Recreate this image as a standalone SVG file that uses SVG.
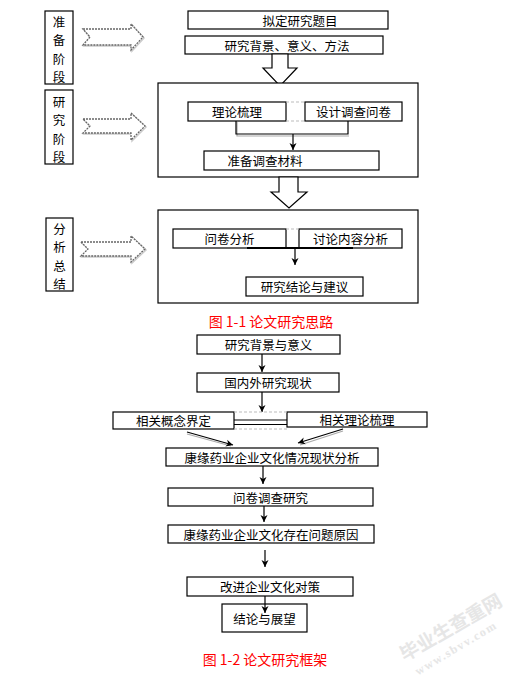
<svg xmlns="http://www.w3.org/2000/svg" width="519" height="676" viewBox="0 0 519 676">
<defs>
<marker id="ah" markerWidth="10" markerHeight="10" refX="8" refY="5" orient="auto" markerUnits="userSpaceOnUse">
<path d="M1,1.5 L8,5 L1,8.5 L3,5 Z" fill="#000"/>
</marker>
</defs>
<style>
.box{fill:#fff;stroke:#000;stroke-width:1.2}
.t{font-family:"Noto Sans CJK SC","Noto Sans",sans-serif;font-size:12.5px;fill:#000;text-anchor:middle;dominant-baseline:central}
.cap{font-family:"Noto Sans CJK SC","Noto Sans",sans-serif;font-size:14px;fill:#f00;text-anchor:middle;dominant-baseline:central}
.harrow{fill:#fff;stroke:#666;stroke-width:1.3;stroke-dasharray:2 1}
.hshadow{fill:none;stroke:#ccc;stroke-width:1.5}
.darrow{fill:#fff;stroke:#000;stroke-width:1.2}
.ln{fill:none;stroke:#000;stroke-width:1.2}
.sh{fill:none;stroke:#aaa;stroke-width:1.2}
.dash{fill:none;stroke:#bbb;stroke-width:1;stroke-dasharray:3 2}
.wm{font-family:"Noto Sans CJK SC",sans-serif;fill:#e6e6e6;font-weight:bold;text-anchor:middle;dominant-baseline:central}
</style>

<!-- stage labels -->
<g id="stage1"><rect class="box" x="45" y="11" width="28" height="73"/>
<text class="t" x="59" y="21">准</text><text class="t" x="59" y="39">备</text><text class="t" x="59" y="58">阶</text><text class="t" x="59" y="76">段</text></g>
<g id="stage2"><rect class="box" x="45" y="90" width="28" height="74"/>
<text class="t" x="59" y="101">研</text><text class="t" x="59" y="119">究</text><text class="t" x="59" y="138">阶</text><text class="t" x="59" y="156">段</text></g>
<g id="stage3"><rect class="box" x="46" y="218" width="27" height="73"/>
<text class="t" x="59.5" y="228">分</text><text class="t" x="59.5" y="246">析</text><text class="t" x="59.5" y="265">总</text><text class="t" x="59.5" y="283">结</text></g>

<!-- hollow right arrows -->
<g id="harrow1"><polygon class="hshadow" points="84,30 132,30 132,25 144,38 132,51 132,46 84,46 91,38"/><polygon class="harrow" points="83,29 131,29 131,24 143,37 131,50 131,45 83,45 90,37"/></g>
<g id="harrow2"><polygon class="hshadow" points="84,120 132,120 132,114 146,127 132,141 132,134 84,134 91,127"/><polygon class="harrow" points="83,119 131,119 131,113 145,126 131,140 131,133 83,133 90,126"/></g>
<g id="harrow3"><polygon class="hshadow" points="82,243 132,243 132,237 146,250 132,263 132,257 82,257 89,250"/><polygon class="harrow" points="81,242 131,242 131,236 145,249 131,262 131,256 81,256 88,249"/></g>

<!-- top flow -->
<g id="n1"><rect class="box" x="188" y="11" width="200" height="18"/><text class="t" x="300" y="20">拟定研究题目</text></g>
<g id="n2"><rect class="box" x="185" y="36" width="198" height="18"/><text class="t" x="287" y="45">研究背景、意义、方法</text></g>
<g id="darrow1"><polygon class="darrow" points="272,54 288,54 288,68 297,68 280,86 263,68 272,68"/></g>
<g id="frame1"><rect class="box" x="158" y="83" width="260" height="94"/></g>
<g id="n3"><rect class="box" x="188" y="102" width="98" height="19"/><text class="t" x="237" y="111.5">理论梳理</text></g>
<g id="n4"><rect class="box" x="305" y="102" width="97" height="19"/><text class="t" x="353.5" y="111.5">设计调查问卷</text></g>
<g id="n5"><rect class="box" x="204" y="151" width="175" height="19"/><text class="t" x="265" y="160.5">准备调查材料</text></g>
<g id="darrow2"><polygon class="darrow" points="279,177 298,177 298,192 307,192 289,208 271,192 279,192"/></g>
<g id="frame2"><rect class="box" x="158" y="210" width="260" height="93"/></g>
<g id="n6"><rect class="box" x="173" y="229" width="113" height="19"/><text class="t" x="229.5" y="238.5">问卷分析</text></g>
<g id="n7"><rect class="box" x="299" y="229" width="103" height="19"/><text class="t" x="350.5" y="238.5">讨论内容分析</text></g>
<g id="n8"><rect class="box" x="246" y="277" width="117" height="19"/><text class="t" x="304.5" y="286.5">研究结论与建议</text></g>
<g id="cap1"><text class="cap" x="271" y="321">图 1-1 论文研究思路</text></g>

<!-- bottom flow -->
<g id="m1"><rect class="box" x="197" y="335" width="143" height="19"/><text class="t" x="268.5" y="344.5">研究背景与意义</text></g>
<g id="m2"><rect class="box" x="197" y="373" width="142" height="19"/><text class="t" x="268" y="382.5">国内外研究现状</text></g>
<g id="m3"><rect class="box" x="113" y="412" width="121" height="17"/><text class="t" x="173.5" y="420.5">相关概念界定</text></g>
<g id="m4"><rect class="box" x="287" y="412" width="140" height="15"/><text class="t" x="357" y="419.5">相关理论梳理</text></g>
<g id="m5"><rect class="box" x="166" y="448" width="212" height="18"/><text class="t" x="272" y="457">康缘药业企业文化情况现状分析</text></g>
<g id="m6"><rect class="box" x="168" y="488" width="205" height="18"/><text class="t" x="270.5" y="497">问卷调查研究</text></g>
<g id="m7"><rect class="box" x="168" y="525" width="206" height="18"/><text class="t" x="271" y="534">康缘药业企业文化存在问题原因</text></g>
<g id="m8"><rect class="box" x="187" y="577" width="166" height="19"/><text class="t" x="270" y="586.5">改进企业文化对策</text></g>
<g id="m9"><rect class="box" x="222" y="604" width="85" height="28"/><text class="t" x="264.5" y="618">结论与展望</text></g>
<g id="cap2"><text class="cap" x="265" y="659">图 1-2 论文研究框架</text></g>

<!-- connectors -->
<g id="connectors">
<line class="dash" x1="286" y1="102" x2="305" y2="102"/>
<line class="dash" x1="286" y1="121" x2="305" y2="121"/>
<polyline class="sh" points="237,122 237,136 349,136"/>
<polyline class="ln" points="236,121 236,134 348,134 348,121"/>
<line class="ln" x1="293" y1="134" x2="293" y2="150" marker-end="url(#ah)"/>
<line class="dash" x1="286" y1="229" x2="299" y2="229"/>
<line x1="247" y1="248" x2="353" y2="248" stroke="#000" stroke-width="2"/>
<line class="ln" x1="295" y1="248" x2="295" y2="265" marker-end="url(#ah)"/>

<line class="ln" x1="262" y1="354" x2="262" y2="372" marker-end="url(#ah)"/>
<line class="ln" x1="262" y1="392" x2="262" y2="412" marker-end="url(#ah)"/>
<line class="dash" x1="234" y1="412" x2="287" y2="412"/>
<line class="dash" x1="234" y1="429" x2="287" y2="429"/>
<line class="ln" x1="234" y1="420" x2="287" y2="420"/>
<line class="ln" x1="234" y1="424.5" x2="287" y2="424.5"/>
<line class="sh" x1="187" y1="434" x2="231" y2="446"/>
<line class="ln" x1="187" y1="432" x2="233" y2="445" marker-end="url(#ah)"/>
<line class="sh" x1="343" y1="431" x2="300" y2="445"/>
<line class="ln" x1="343" y1="429" x2="298" y2="443" marker-end="url(#ah)"/>
<line class="ln" x1="263" y1="466" x2="263" y2="484" marker-end="url(#ah)"/>
<line class="ln" x1="264" y1="506" x2="264" y2="522" marker-end="url(#ah)"/>
<line class="ln" x1="265" y1="550" x2="265" y2="567" marker-end="url(#ah)"/>
<line class="ln" x1="265" y1="596" x2="265" y2="613" marker-end="url(#ah)"/>
</g>

<!-- watermark -->
<g id="watermark">
<text class="wm" font-size="19" x="450" y="626" transform="rotate(-30 450 626)">毕业生查重网</text>
<text class="wm" font-size="12" letter-spacing="1.5" x="456" y="648" transform="rotate(-31 456 648)" style="font-family:'Liberation Serif',serif">www.sbvv.com</text>
</g>
</svg>
